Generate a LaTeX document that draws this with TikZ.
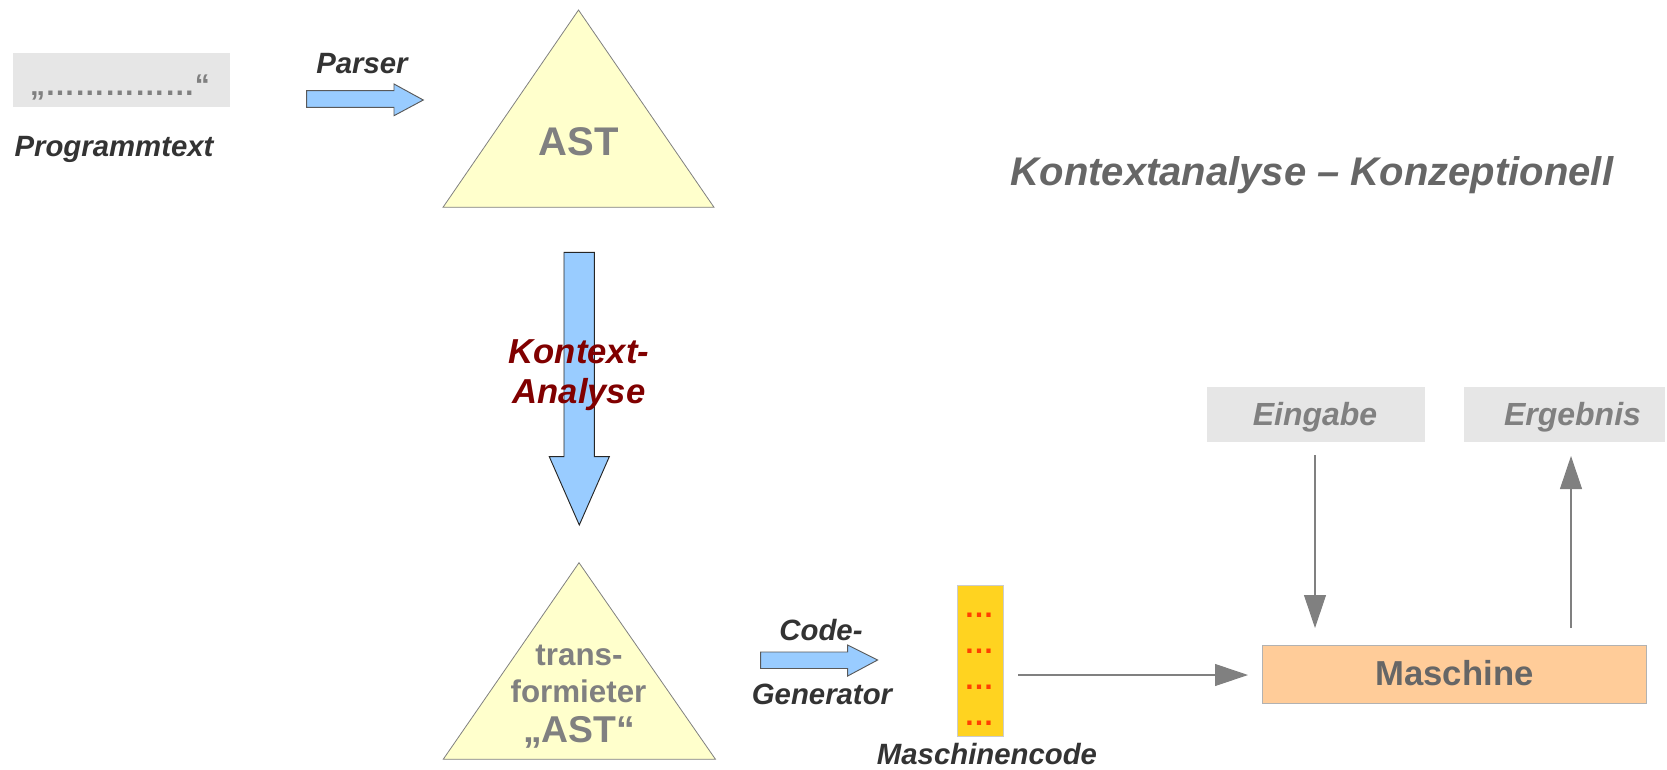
\documentclass[tikz,border=0pt]{standalone}
\usepackage{fontspec}
\setmainfont{Liberation Sans}
\usetikzlibrary{arrows.meta}

\definecolor{boxgray}{HTML}{E6E6E6}
\definecolor{txtgray}{HTML}{808080}
\definecolor{txtdark}{HTML}{333333}
\definecolor{titlegray}{HTML}{666666}
\definecolor{astfill}{HTML}{FFFFCC}
\definecolor{arrowblue}{HTML}{99CCFF}
\definecolor{kontextred}{HTML}{800000}
\definecolor{codefill}{HTML}{FFD320}
\definecolor{dotred}{HTML}{FF4000}
\definecolor{machfill}{HTML}{FFCC99}
\definecolor{linegray}{HTML}{808080}

\newcommand{\fsz}[2]{\fontsize{#1}{#2}\selectfont}

\tikzset{
  txt/.style={inner sep=0pt, anchor=base},
  darklabel/.style={txt, text=txtdark, font=\bfseries\itshape\fsz{22}{26}},
  graylabel/.style={txt, text=txtgray, font=\bfseries\itshape\fsz{24}{28}},
  treetext/.style={txt, text=txtgray, font=\bfseries\fsz{23.5}{28}},
  redlabel/.style={txt, text=kontextred, font=\bfseries\itshape\fsz{26}{30}},
  flatbox/.style={fill=boxgray, draw=none},
  tree/.style={fill=astfill, draw=txtgray, line width=0.6pt, line join=miter},
  blockarrow/.style={fill=arrowblue, draw=#1, line width=0.7pt, line join=miter},
  blockarrow/.default={black!65},
  conn/.style={draw=linegray, line width=0.8pt,
    -{Triangle[length=24.75pt, width=16.5pt]}, fill=linegray},
  codedots/.style={txt, text=dotred, font=\bfseries\fsz{22.5}{26}},
}

\begin{document}
\begin{tikzpicture}[x=0.75pt, y=-0.75pt]
  \useasboundingbox (0,0) rectangle (1667,769);

  % source text
  \path[flatbox] (12.8,53) rectangle (229.6,106.5);
  \node[txt, text=txtgray, font=\bfseries\fsz{22.5}{26}] (quote) at (120,95) {„……………“};
  \node[darklabel] (progtxt) at (114,156) {Programmtext};

  % parser step
  \path[blockarrow] (306.7,90.7) -- (394,90.7) -- (394,84) -- (423.3,100)
    -- (394,115.7) -- (394,107.3) -- (306.7,107.3) -- cycle;
  \node[darklabel] (parser) at (362,73) {Parser};

  % abstract syntax tree
  \path[tree] (578.5,10) -- (714,207.3) -- (443,207.3) -- cycle;
  \node[txt, text=txtgray, font=\bfseries\fsz{30}{34}] (ast) at (578.5,155) {AST};

  % context analysis
  \path[blockarrow=black!85] (564,252.3) -- (594.3,252.3) -- (594.3,456.7) -- (609.3,456.7)
    -- (579.3,525) -- (549.3,456.7) -- (564,456.7) -- cycle;
  \node[redlabel] (ka1) at (579,363) {Kontext-};
  \node[redlabel] (ka2) at (579,403) {Analyse};

  % transformed tree
  \path[tree] (579,562.7) -- (715.5,759.3) -- (443.2,759.3) -- cycle;
  \node[treetext] (tr1) at (579,665) {trans-};
  \node[treetext] (tr2) at (578.5,702) {formieter};
  \node[txt, text=txtgray, font=\bfseries\fsz{28}{32}] (tr3) at (579,742) {„AST“};

  % code generator step
  \path[blockarrow] (760.6,652) -- (847.7,652) -- (847.7,645) -- (877.6,660)
    -- (847.7,676) -- (847.7,668.5) -- (760.6,668.5) -- cycle;
  \node[darklabel] (cg1) at (821,640) {Code-};
  \node[darklabel] (cg2) at (822,704) {Generator};

  % machine code
  \path[fill=codefill, draw=black!20, line width=0.6pt] (957,585) rectangle (1003,736);
  \node[codedots] (d1) at (979,617) {…};
  \node[codedots] (d2) at (979,653) {…};
  \node[codedots] (d3) at (979,689) {…};
  \node[codedots] (d4) at (979,725) {…};
  \node[darklabel] (mc) at (987,764) {Maschinencode};

  % machine with input and result
  \path[fill=machfill, draw=black!30, line width=0.6pt] (1262,645) rectangle (1646,703);
  \node[txt, text=titlegray, font=\bfseries\fsz{26}{30}] (ma) at (1454.5,685) {Maschine};

  \path[flatbox] (1207,387) rectangle (1425,442);
  \node[graylabel] (ein) at (1315,425) {Eingabe};
  \path[flatbox] (1464,387) rectangle (1665,442);
  \node[graylabel] (erg) at (1572.5,425) {Ergebnis};

  \coordinate (codeOut) at (1018,675);
  \coordinate (maLeft) at (1248,675);
  \coordinate (einOut) at (1315,455);
  \coordinate (maTopIn) at (1315,628);
  \coordinate (maTopOut) at (1571,628);
  \coordinate (ergIn) at (1571,456);
  \draw[conn] (codeOut) -- (maLeft);
  \draw[conn] (einOut) -- (maTopIn);
  \draw[conn] (maTopOut) -- (ergIn);

  % heading
  \node[txt, text=titlegray, font=\bfseries\itshape\fsz{30}{34}] (title) at (1312,185)
    {Kontextanalyse – Konzeptionell};
\end{tikzpicture}
\end{document}
